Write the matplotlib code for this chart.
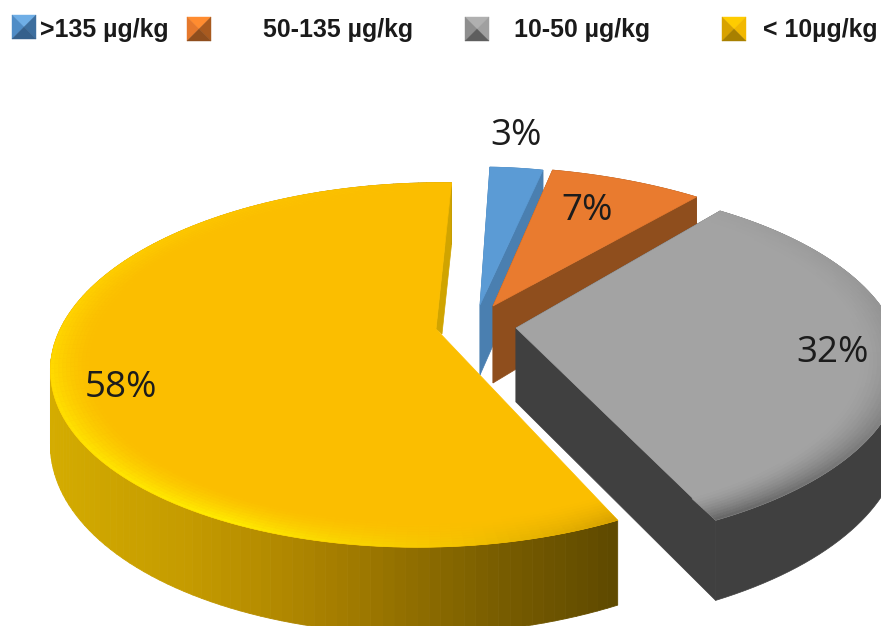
"""
Exploded 3D style pie chart of concentration classes
"""
import numpy as np
import matplotlib
matplotlib.use("Agg")
import matplotlib.pyplot as plt
from matplotlib.collections import PolyCollection
from matplotlib.colors import LinearSegmentedColormap, to_rgb
from matplotlib.patches import Polygon

# data
classes = [">135 µg/kg", "50-135 µg/kg", "10-50 µg/kg", "< 10µg/kg"]
shares = [3, 7, 32, 58]

# layout, in pixels of the picture
W, H = 881, 626
START_ANGLE = 2.0  # clockwise from the top
PERSPECTIVE = 0.17
apexes = [(480, 305), (493, 306), (516, 328), (436, 329)]
centers = [(480, 314), (475, 329), (511, 334), (431, 334)]
radii_x = [331, 408, 385, 373]
radii_y = [172, 190, 177, 177]
skews = [0, 0, 0, 11]
rim_depths = [72, 72, 68, 72]
apex_drops = [(0, 70), (0, 77), (0, 74), (6, 5)]
label_pos = [(516, 136), (587, 211), (833, 353), (121, 388)]
swatch_x = [12, 187, 465, 722]
swatch_y = [15, 17, 17, 17]
legend_text_x = [40, 263, 514, 763]

# styles
top_colors = ["#5B9BD5", "#E97B2F", "#A3A3A3", "#FBBE00"]
cut_colors = ["#4A7FB0", "#8F4E1D", "#404040", "#D0A400"]
bevels = [
    [(0, "#5B9BD5"), (360, "#5B9BD5")],
    [(0, "#E97B2F"), (360, "#E97B2F")],
    [(38, "#A0A0A0"), (70, "#999999"), (95, "#8E8E8E"), (120, "#808080"), (154, "#666666")],
    [(153, "#D9A300"), (175, "#F5C400"), (205, "#FFEA00"), (240, "#FFE000"),
     (270, "#FFD400"), (320, "#FDC400"), (362, "#FBBE00")],
]
yellow_wall = LinearSegmentedColormap.from_list("wall", [
    (0.0, "#D4AC00"), (0.26, "#C49A00"), (0.49, "#A88000"),
    (0.79, "#7A5E00"), (1.0, "#5F4A00")])
swatch_tones = [
    ("#6FAEE6", "#4F8CC6", "#3D6E9E", "#35608C"),
    ("#FF8C30", "#E5782C", "#A85A1F", "#8F4E1D"),
    ("#B0B0B0", "#8E8E8E", "#A0A0A0", "#5E5E5E"),
    ("#FFCC00", "#D8A200", "#F2B800", "#A88000"),
]


def project(i, theta, f=1.0, below=False):
    """Map a rim point of slice i (angle in degrees, radius fraction) to pixels"""
    t = np.radians(theta)
    x = f * np.sin(t)
    y = f * np.cos(t)
    s = 1 / (1 + PERSPECTIVE * y)
    px = centers[i][0] + (radii_x[i] * x + skews[i] * y) * s
    py = centers[i][1] - radii_y[i] * y * s
    if below:
        py = py + rim_depths[i] * s
    return np.column_stack([px, py])


def rim_color(spec, theta):
    angles = [a for a, _ in spec]
    rgb = np.array([to_rgb(c) for _, c in spec])
    return [np.interp(theta, angles, rgb[:, k]) for k in range(3)]


def draw_slice(ax, i, a0, a1):
    angles = np.linspace(a0, a1, int((a1 - a0) / 1.5) + 2)
    rim = project(i, angles)
    rim_low = project(i, angles, below=True)
    apex = np.array(apexes[i], dtype=float)
    apex_low = apex + apex_drops[i]

    # outer wall
    if i == 3:
        quads = []
        colors = []
        for k in range(len(angles) - 1):
            quads.append([rim[k], rim[k + 1], rim_low[k + 1], rim_low[k]])
            colors.append(yellow_wall(np.clip((rim[k][0] - 50) / 568, 0, 1)))
        ax.add_collection(PolyCollection(quads, facecolors=colors, edgecolors="face", linewidths=0.6))
    else:
        pts = np.vstack([rim, rim_low[::-1]])
        ax.add_patch(Polygon(pts, closed=True, fc=cut_colors[i], ec=cut_colors[i], lw=0.5))

    # the cut faces, the first one of the big slice stays hidden
    for end in (0, -1):
        if i == 3 and end == 0:
            continue
        pts = np.vstack([apex, rim[end], rim_low[end], apex_low])
        ax.add_patch(Polygon(pts, closed=True, fc=cut_colors[i], ec=cut_colors[i], lw=0.5))

    # top face
    pts = np.vstack([apex, rim])
    ax.add_patch(Polygon(pts, closed=True, fc=top_colors[i], ec=top_colors[i], lw=0.5))

    # soft bevel along the rim
    if i < 2:
        return
    base = np.array(to_rgb(top_colors[i]))
    bands = np.linspace(0.9, 1.0, 11)
    quads = []
    colors = []
    for k in range(len(angles) - 1):
        edge = np.array(rim_color(bevels[i], angles[k]))
        for b in range(len(bands) - 1):
            inner = project(i, angles[k:k + 2], bands[b])
            outer = project(i, angles[k:k + 2], bands[b + 1])
            quads.append([inner[0], inner[1], outer[1], outer[0]])
            t = ((bands[b + 1] - 0.9) / 0.1) ** 1.5
            colors.append((1 - t) * base + t * edge)
    ax.add_collection(PolyCollection(quads, facecolors=colors, edgecolors="face", linewidths=0.3))


def draw_swatch(ax, x, y, tones, size=24):
    cx, cy = x + size / 2, y + size / 2
    corners = [(x, y), (x + size, y), (x + size, y + size), (x, y + size)]
    top, left, right, bottom = tones
    faces = [(corners[0], corners[1], top), (corners[3], corners[0], left),
             (corners[1], corners[2], right), (corners[2], corners[3], bottom)]
    for p, q, c in faces:
        ax.add_patch(Polygon([p, q, (cx, cy)], closed=True, fc=c, ec=c, lw=0.3))


def main():
    fig = plt.figure(figsize=(W / 100, H / 100), dpi=100)
    ax = fig.add_axes([0, 0, 1, 1])
    ax.set_xlim(0, W)
    ax.set_ylim(H, 0)
    ax.axis("off")

    # slices clockwise from the start angle
    edges = START_ANGLE + np.cumsum([0] + shares) * 3.6
    for i in range(len(shares)):
        draw_slice(ax, i, edges[i], edges[i + 1])

    for i, share in enumerate(shares):
        ax.text(label_pos[i][0], label_pos[i][1], f"{share}%", ha="center", va="center",
                fontsize=26.5, family="Open Sans", color="#1C1C1C", zorder=5)

    # legend
    for i, name in enumerate(classes):
        draw_swatch(ax, swatch_x[i], swatch_y[i], swatch_tones[i])
        ax.text(legend_text_x[i], 30, name, ha="left", va="center", fontsize=17.9,
                family="Liberation Sans", fontweight="bold", color="#1A1A1A")

    fig.savefig("out.png", dpi=100)
    plt.close(fig)


if __name__ == "__main__":
    main()
